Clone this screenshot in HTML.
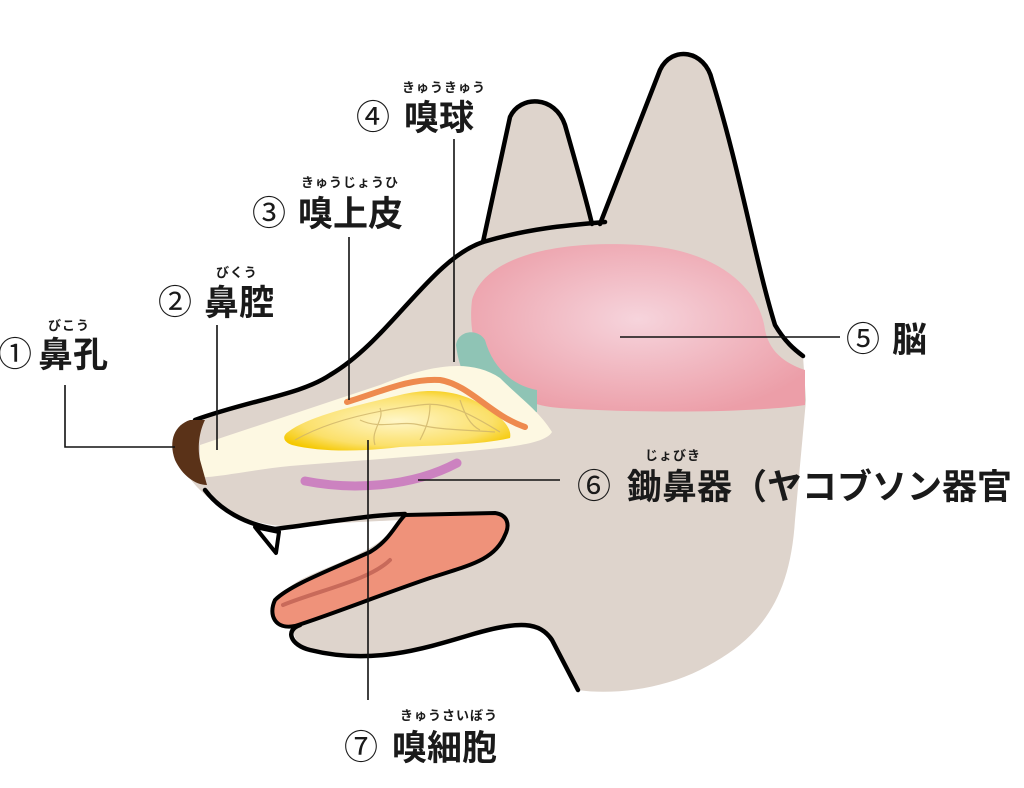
<!DOCTYPE html>
<html><head><meta charset="utf-8">
<style>
html,body{margin:0;padding:0;background:#fff;}
body{width:1024px;height:788px;overflow:hidden;position:relative;}
svg{position:absolute;left:0;top:0;}
text{font-family:"Liberation Sans","Noto Sans CJK JP",sans-serif;fill:#1a1a1a;}
.big{font-size:35px;font-weight:700;}
.num{font-size:34px;font-weight:400;}
.fur{font-size:13px;font-weight:700;letter-spacing:1px;}
</style></head><body>
<svg width="1024" height="788" viewBox="0 0 1024 788">
<defs>
<radialGradient id="br" cx="0.5" cy="0.45" r="0.6">
<stop offset="0" stop-color="#f6d4dc"/><stop offset="1" stop-color="#ec9ea8"/>
</radialGradient>
<radialGradient id="ye" cx="0.5" cy="0.5" r="0.6">
<stop offset="0" stop-color="#fff6c8"/><stop offset="0.7" stop-color="#fbe06a"/><stop offset="1" stop-color="#f5c800"/>
</radialGradient>
</defs>
<path d="M178,428 C230,405 290,395 330,375 C390,340 430,260 483,242 L510,117 C520,95 555,95 565,125 L592,224 L600,224 L660,70 C672,45 705,50 712,80 C740,170 755,260 775,325 L803,356 L806,400 L795,520 C790,600 760,640 700,670 C660,690 610,695 578,690 L552,640 C540,622 520,620 470,635 C420,650 370,665 310,650 C295,645 288,630 300,622 L275,620 C268,610 275,595 300,580 C340,560 380,552 400,520 L280,526 C240,522 215,505 200,490 C180,470 170,445 178,428 Z" fill="#ded4cc"/>
<path d="M472,300 C485,255 560,240 640,245 C720,250 760,290 765,330 C770,355 790,365 805,370 L805,405 C760,412 650,414 560,408 C500,404 465,360 472,300 Z" fill="url(#br)"/>
<path d="M456,345 C458,330 478,328 485,340 C492,365 510,385 537,390 L537,412 C495,418 462,395 456,345 Z" fill="#8fc4b5"/>
<path d="M200,445 C260,425 320,405 380,385 C430,365 470,358 500,378 C520,398 540,412 552,432 C545,445 500,448 460,452 C400,458 340,462 290,466 C250,470 215,478 200,477 Z" fill="#fdf8e2"/>
<path d="M288,432 C310,415 360,405 400,395 C440,385 470,395 490,410 C505,420 512,430 510,438 C480,445 440,445 400,447 C360,452 320,452 292,445 C283,442 282,436 288,432 Z" fill="url(#ye)"/>
<g stroke="#cfb46a" stroke-width="1.2" fill="none" opacity="0.8">
<path d="M295,440 C330,420 380,410 420,405 C450,400 480,420 500,432"/>
<path d="M360,420 C380,430 400,420 420,425 C440,430 470,430 495,432"/>
<path d="M430,405 C430,420 425,430 420,440"/><path d="M380,408 C385,420 370,430 375,445"/>
<path d="M460,400 C465,415 470,425 480,430"/>
</g>
<path d="M347,402 C380,392 410,378 440,380 C470,385 490,415 525,427" stroke="#ee8a4e" stroke-width="6" fill="none" stroke-linecap="round"/>
<path d="M305,481 C350,490 410,488 457,463" stroke="#cc82c0" stroke-width="9" fill="none" stroke-linecap="round"/>
<path d="M255,527 L276,553 L279,532 Z" fill="#fff" stroke="#000" stroke-width="4" stroke-linejoin="round"/>
<path d="M405,515 L495,513 C508,515 510,525 505,535 C495,560 470,565 430,578 C380,595 330,615 295,626 C275,630 268,615 275,600 C290,585 330,570 370,552 C390,540 395,525 405,515 Z" fill="#ef927a" stroke="#000" stroke-width="4"/>
<path d="M283,605 C320,590 370,580 390,560" stroke="#c86a5a" stroke-width="4" fill="none" stroke-linecap="round"/>
<g stroke="#000" stroke-width="4.5" fill="none" stroke-linecap="round" stroke-linejoin="round">
<path d="M195,420 C250,400 300,395 330,375 C390,340 430,260 483,242 C530,228 570,225 605,222"/>
<path d="M483,242 L510,117 C520,95 555,95 565,125 C575,160 585,195 592,224"/>
<path d="M600,224 L660,70 C672,45 705,50 712,80 C740,170 755,260 775,325 C785,342 795,350 803,356"/>
<path d="M205,490 C220,510 245,524 275,529 C330,522 370,515 405,514"/>
<path d="M300,625 C285,630 290,645 310,650 C370,665 420,650 470,635 C520,620 540,622 552,640 L578,690"/>
</g>
<path d="M190,420 C175,425 168,440 175,460 C182,475 195,485 207,485 L200,460 C197,445 200,430 205,420 Z" fill="#5a3218"/>
<g stroke="#111" stroke-width="1.6" fill="none">
<path d="M65,385 V447 H175"/>
<path d="M217,325 V450"/>
<path d="M349,237 V400"/>
<path d="M454,139 V362"/>
<path d="M620,337 H840"/>
<path d="M418,480 H560"/>
<path d="M368,440 V700"/>
</g>
<text class="fur" x="48" y="330">びこう</text>
<text class="num" x="-2" y="366">①</text><text class="big" x="38" y="367">鼻孔</text>
<text class="fur" x="216" y="277">びくう</text>
<text class="num" x="158" y="314">②</text><text class="big" x="204" y="315">鼻腔</text>
<text class="fur" x="301" y="187">きゅうじょうひ</text>
<text class="num" x="252" y="225">③</text><text class="big" x="298" y="226">嗅上皮</text>
<text class="fur" x="402" y="92">きゅうきゅう</text>
<text class="num" x="356" y="129">④</text><text class="big" x="404" y="130">嗅球</text>
<text class="num" x="846" y="351">⑤</text><text class="big" x="892" y="352">脳</text>
<text class="fur" x="645" y="460">じょびき</text>
<text class="num" x="577" y="498">⑥</text><text class="big" x="627" y="499">鋤鼻器（ヤコブソン器官</text>
<text class="fur" x="400" y="720">きゅうさいぼう</text>
<text class="num" x="344" y="759">⑦</text><text class="big" x="392" y="760">嗅細胞</text>
</svg>
</body></html>
